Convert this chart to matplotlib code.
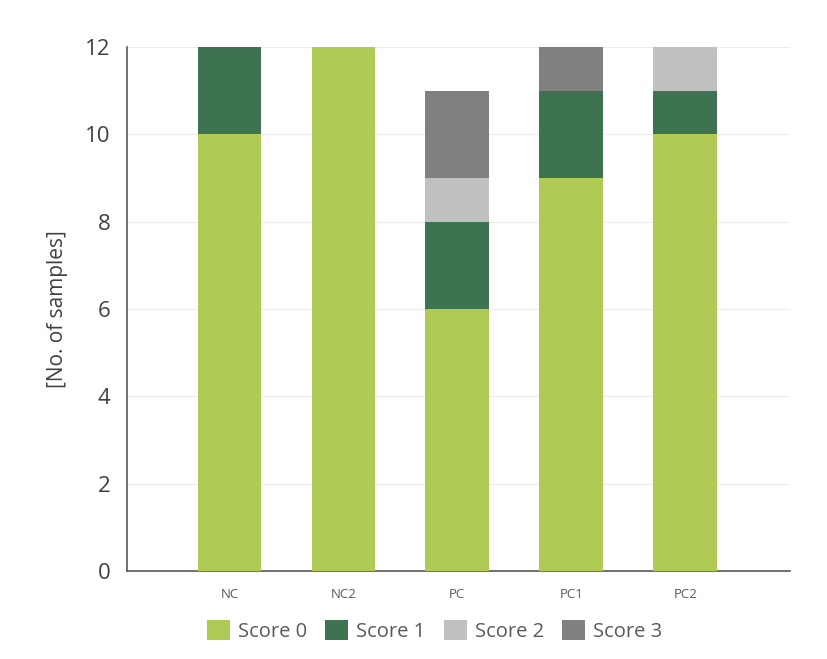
import numpy as np
import matplotlib.pyplot as plt

plt.rcParams['font.family'] = ['Open Sans', 'DejaVu Sans']

groups = ["NC", "NC2", "PC", "PC1", "PC2"]
score0 = [10, 12, 6, 9, 10]
score1 = [2, 0, 2, 2, 1]
score2 = [0, 0, 1, 0, 1]
score3 = [0, 0, 2, 1, 0]
series = [("Score 0", score0, "#afcb56"),
          ("Score 1", score1, "#3d7351"),
          ("Score 2", score2, "#c0c0c0"),
          ("Score 3", score3, "#808080")]

fig = plt.figure(figsize=(8.28, 6.59), dpi=100)
ax = fig.add_axes([127 / 828, 1 - 571 / 659, (790 - 127) / 828, (571 - 47) / 659])

x = np.arange(len(groups))
bottom = np.zeros(len(groups))
for name, vals, color in series:
    ax.bar(x, vals, width=0.56, bottom=bottom, color=color, label=name, zorder=3)
    bottom += np.array(vals)

ax.set_xlim(-0.9, 4.92)
ax.set_ylim(0, 12)
ax.set_yticks(range(0, 13, 2))
ax.set_xticks(x)
ax.set_xticklabels(groups, fontsize=9.5, color="#595959")
ax.tick_params(axis="y", labelsize=16, colors="#404040", length=0, pad=12)
ax.tick_params(axis="x", length=0, pad=12)
ax.grid(axis="y", color="#ececec", linewidth=0.8, zorder=0)
for s in ["top", "right"]:
    ax.spines[s].set_visible(False)
for s in ["left", "bottom"]:
    ax.spines[s].set_color("#595959")
    ax.spines[s].set_linewidth(1.2)
ax.set_ylabel("[No. of samples]", fontsize=15, color="#404040", labelpad=12)

fig.legend(loc="center", bbox_to_anchor=(0.525, 1 - 631 / 659), ncol=4, frameon=False,
           fontsize=14.5, handlelength=1.15, handleheight=1.15, columnspacing=0.9,
           handletextpad=0.4, labelcolor="#595959")

fig.savefig("out.png", dpi=100)
